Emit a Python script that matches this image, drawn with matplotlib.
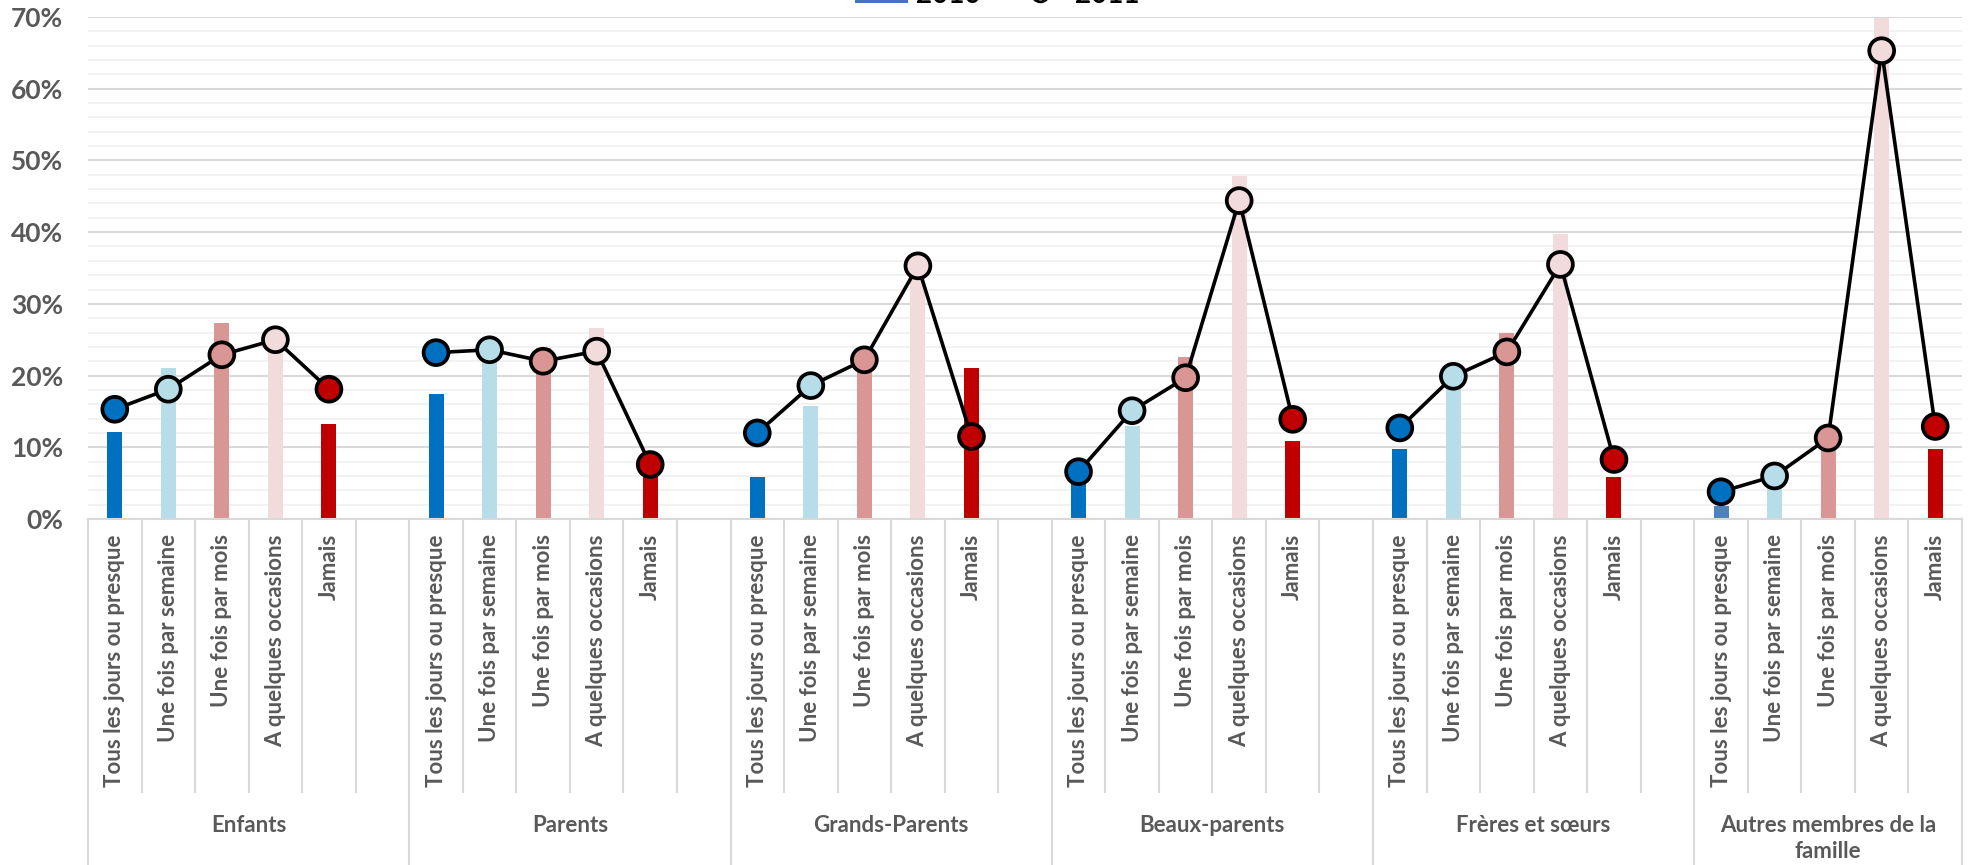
import numpy as np
import matplotlib
matplotlib.use("Agg")
import matplotlib.pyplot as plt
from matplotlib.lines import Line2D
from matplotlib.patches import Patch
from matplotlib.ticker import PercentFormatter, MultipleLocator

plt.rcParams['font.family'] = ['Lato', 'DejaVu Sans']
plt.rcParams['font.weight'] = 'bold'

groups = ["Enfants", "Parents", "Grands-Parents", "Beaux-parents",
          "Frères et sœurs", "Autres membres de la\nfamille"]
categories = ["Tous les jours ou presque", "Une fois par semaine",
              "Une fois par mois", "A quelques occasions", "Jamais"]
series_names = ["2010", "2011"]

# values in %, one row per group, one column per category
bars_2010 = np.array([
    [12.2, 21.0, 27.3, 24.5, 13.3],
    [17.5, 23.0, 23.9, 26.6, 6.8],
    [5.9, 15.8, 22.0, 34.8, 21.1],
    [6.0, 12.9, 22.6, 47.8, 10.9],
    [9.7, 19.5, 25.9, 39.8, 5.8],
    [1.8, 5.5, 10.8, 69.8, 9.7],
])
line_2011 = np.array([
    [15.3, 18.1, 22.9, 25.0, 18.1],
    [23.2, 23.6, 22.0, 23.4, 7.6],
    [12.0, 18.6, 22.2, 35.3, 11.5],
    [6.6, 15.1, 19.7, 44.4, 13.9],
    [12.7, 19.9, 23.3, 35.5, 8.3],
    [3.8, 6.0, 11.3, 65.3, 12.9],
])

cat_colors = ["#0070c0", "#b7dde8", "#da9694", "#f2dcdb", "#c00000"]
grey = "#595959"
sep_col = "#d9d9d9"

n_cat = len(categories)
slot = n_cat + 1  # one empty slot after each group
n_slots = slot * len(groups) - 1

fig = plt.figure(figsize=(19.71, 8.65), dpi=100)
ax = fig.add_axes([88 / 1971, 1 - 519 / 865, (1962 - 88) / 1971, (519 - 17) / 865])

for g, name in enumerate(groups):
    xs = g * slot + np.arange(n_cat)
    colors = list(cat_colors)
    if g == len(groups) - 1:
        colors[0] = "#4f81bd"
    ax.bar(xs, bars_2010[g] / 100, width=0.28, color=colors, zorder=2)
    ax.plot(xs, line_2011[g] / 100, color="black", lw=2.6, zorder=3)
    ax.scatter(xs, line_2011[g] / 100, s=320, c=cat_colors,
               edgecolors="black", linewidths=2.7, zorder=4)

ax.set_xlim(-0.5, n_slots - 0.5)
ax.set_ylim(0, 0.70)
ax.yaxis.set_major_locator(MultipleLocator(0.10))
ax.yaxis.set_minor_locator(MultipleLocator(0.02))
ax.yaxis.set_major_formatter(PercentFormatter(1.0, decimals=0))
ax.grid(axis='y', which='minor', color="#f2f2f2", lw=1.4)
ax.grid(axis='y', which='major', color=sep_col, lw=1.5)
ax.set_axisbelow(True)
ax.set_xticks([])
ax.tick_params(axis='y', which='both', length=0, pad=18,
               labelsize=19, labelcolor=grey)
for s in ["left", "right", "top"]:
    ax.spines[s].set_visible(False)
ax.spines["bottom"].set_color(sep_col)
ax.spines["bottom"].set_linewidth(1.5)

# category axis: labels and separators below the plot
trans = ax.get_xaxis_transform()
for g, name in enumerate(groups):
    xs = g * slot + np.arange(n_cat)
    for x, lab in zip(xs, categories):
        ax.text(x, -0.03, lab, transform=trans, rotation=90, ha='center',
                va='top', fontsize=16, color=grey, fontweight='bold')
    n_here = n_cat if g == len(groups) - 1 else slot
    inner = g * slot + np.arange(1, n_here) - 0.5
    ax.vlines(inner, -0.545, 0, transform=trans, colors=sep_col,
              lw=1.5, clip_on=False)
    ax.vlines(g * slot - 0.5, -0.7, 0, transform=trans, colors=sep_col,
              lw=1.5, clip_on=False)
    ax.text(g * slot + (n_here - 1) / 2, -0.59, name, transform=trans,
            ha='center', va='top', fontsize=16, color=grey,
            fontweight='bold', linespacing=1.3)
ax.vlines(n_slots - 0.5, -0.7, 0, transform=trans, colors=sep_col,
          lw=1.5, clip_on=False)

handles = [Patch(facecolor="#4472c4"),
           Line2D([], [], color="black", lw=2.3, marker='o', markersize=12,
                  markerfacecolor="white", markeredgecolor="black",
                  markeredgewidth=2)]
fig.legend(handles, series_names, loc='lower center', ncol=2,
           bbox_to_anchor=(0.506, 0.991), frameon=False, fontsize=20,
           borderpad=0, borderaxespad=0, handlelength=1.9,
           handletextpad=0.3, columnspacing=1.2)

fig.savefig("out.png", dpi=100)
